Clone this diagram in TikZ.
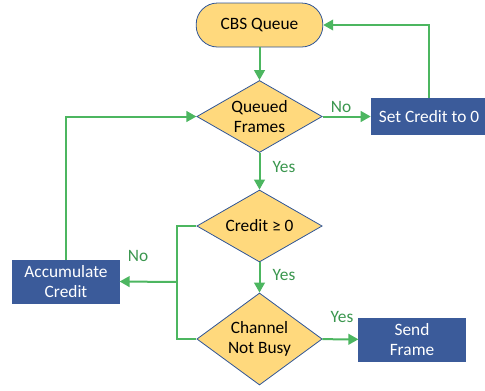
\documentclass[tikz,border=0pt]{standalone}
\usepackage{fontspec}
\setmainfont{Carlito}
\usepackage{tikz}
\usetikzlibrary{shapes.geometric,arrows.meta}

\definecolor{flowgreen}{RGB}{76,182,96}
\definecolor{labelgreen}{RGB}{58,150,78}
\definecolor{decfill}{RGB}{255,217,125}
\definecolor{edgeblue}{RGB}{47,85,151}
\definecolor{boxblue}{RGB}{59,91,154}

\begin{document}
\begin{tikzpicture}[x=0.75pt, y=-0.75pt,
  every node/.style={font=\fontsize{13}{15}\selectfont},
  startbox/.style={draw=edgeblue, fill=decfill, line width=0.6pt, rounded corners=16pt, minimum width=95pt, minimum height=33pt},
  decision/.style={draw=edgeblue, fill=decfill, line width=0.6pt, diamond, aspect=1.7, inner sep=0pt, minimum width=94pt, minimum height=54pt, align=center},
  action/.style={draw=boxblue, fill=boxblue, text=white, inner sep=0pt, minimum width=80pt, minimum height=32pt, align=center},
  arr/.style={draw=flowgreen, line width=1.5pt, -{Triangle[width=8pt,length=7.5pt]}},
  flow/.style={draw=flowgreen, line width=1.5pt},
  answer/.style={text=labelgreen}]
\useasboundingbox (0,0) rectangle (485,390);

\node[startbox] (queue) at (259.5,25) {CBS Queue};
\node[decision] (frames) at (259.5,116.5) {Queued\\Frames};
\node[action, minimum width=87pt, minimum height=27pt] (setcr) at (429,116.5) {Set Credit to 0};
\node[decision] (credit) at (259.5,226) {Credit ≥ 0};
\node[decision, minimum height=69pt] (chan) at (259.5,339) {Channel\\Not Busy};
\node[action] (accum) at (66,281.5) {Accumulate\\Credit};
\node[action] (send) at (412,339.5) {Send\\Frame};
\coordinate (join) at (177,282);

\draw[arr] (queue) -- (frames);
\draw[arr] (frames) -- (setcr);
\draw[arr] (setcr.north) |- (queue.east);
\draw[arr] (frames) -- (credit);
\draw[arr] (credit) -- (chan);
\draw[flow] (credit.west) -| (join) |- (chan.west);
\draw[arr] (join) -- (accum.east);
\draw[arr] (accum.north) |- (frames.west);
\draw[arr] (chan) -- (send);

\node[answer] at (341,107) {No};
\node[answer] at (284,167) {Yes};
\node[answer] at (284,275) {Yes};
\node[answer] at (138,256) {No};
\node[answer] at (342,317) {Yes};
\end{tikzpicture}
\end{document}
